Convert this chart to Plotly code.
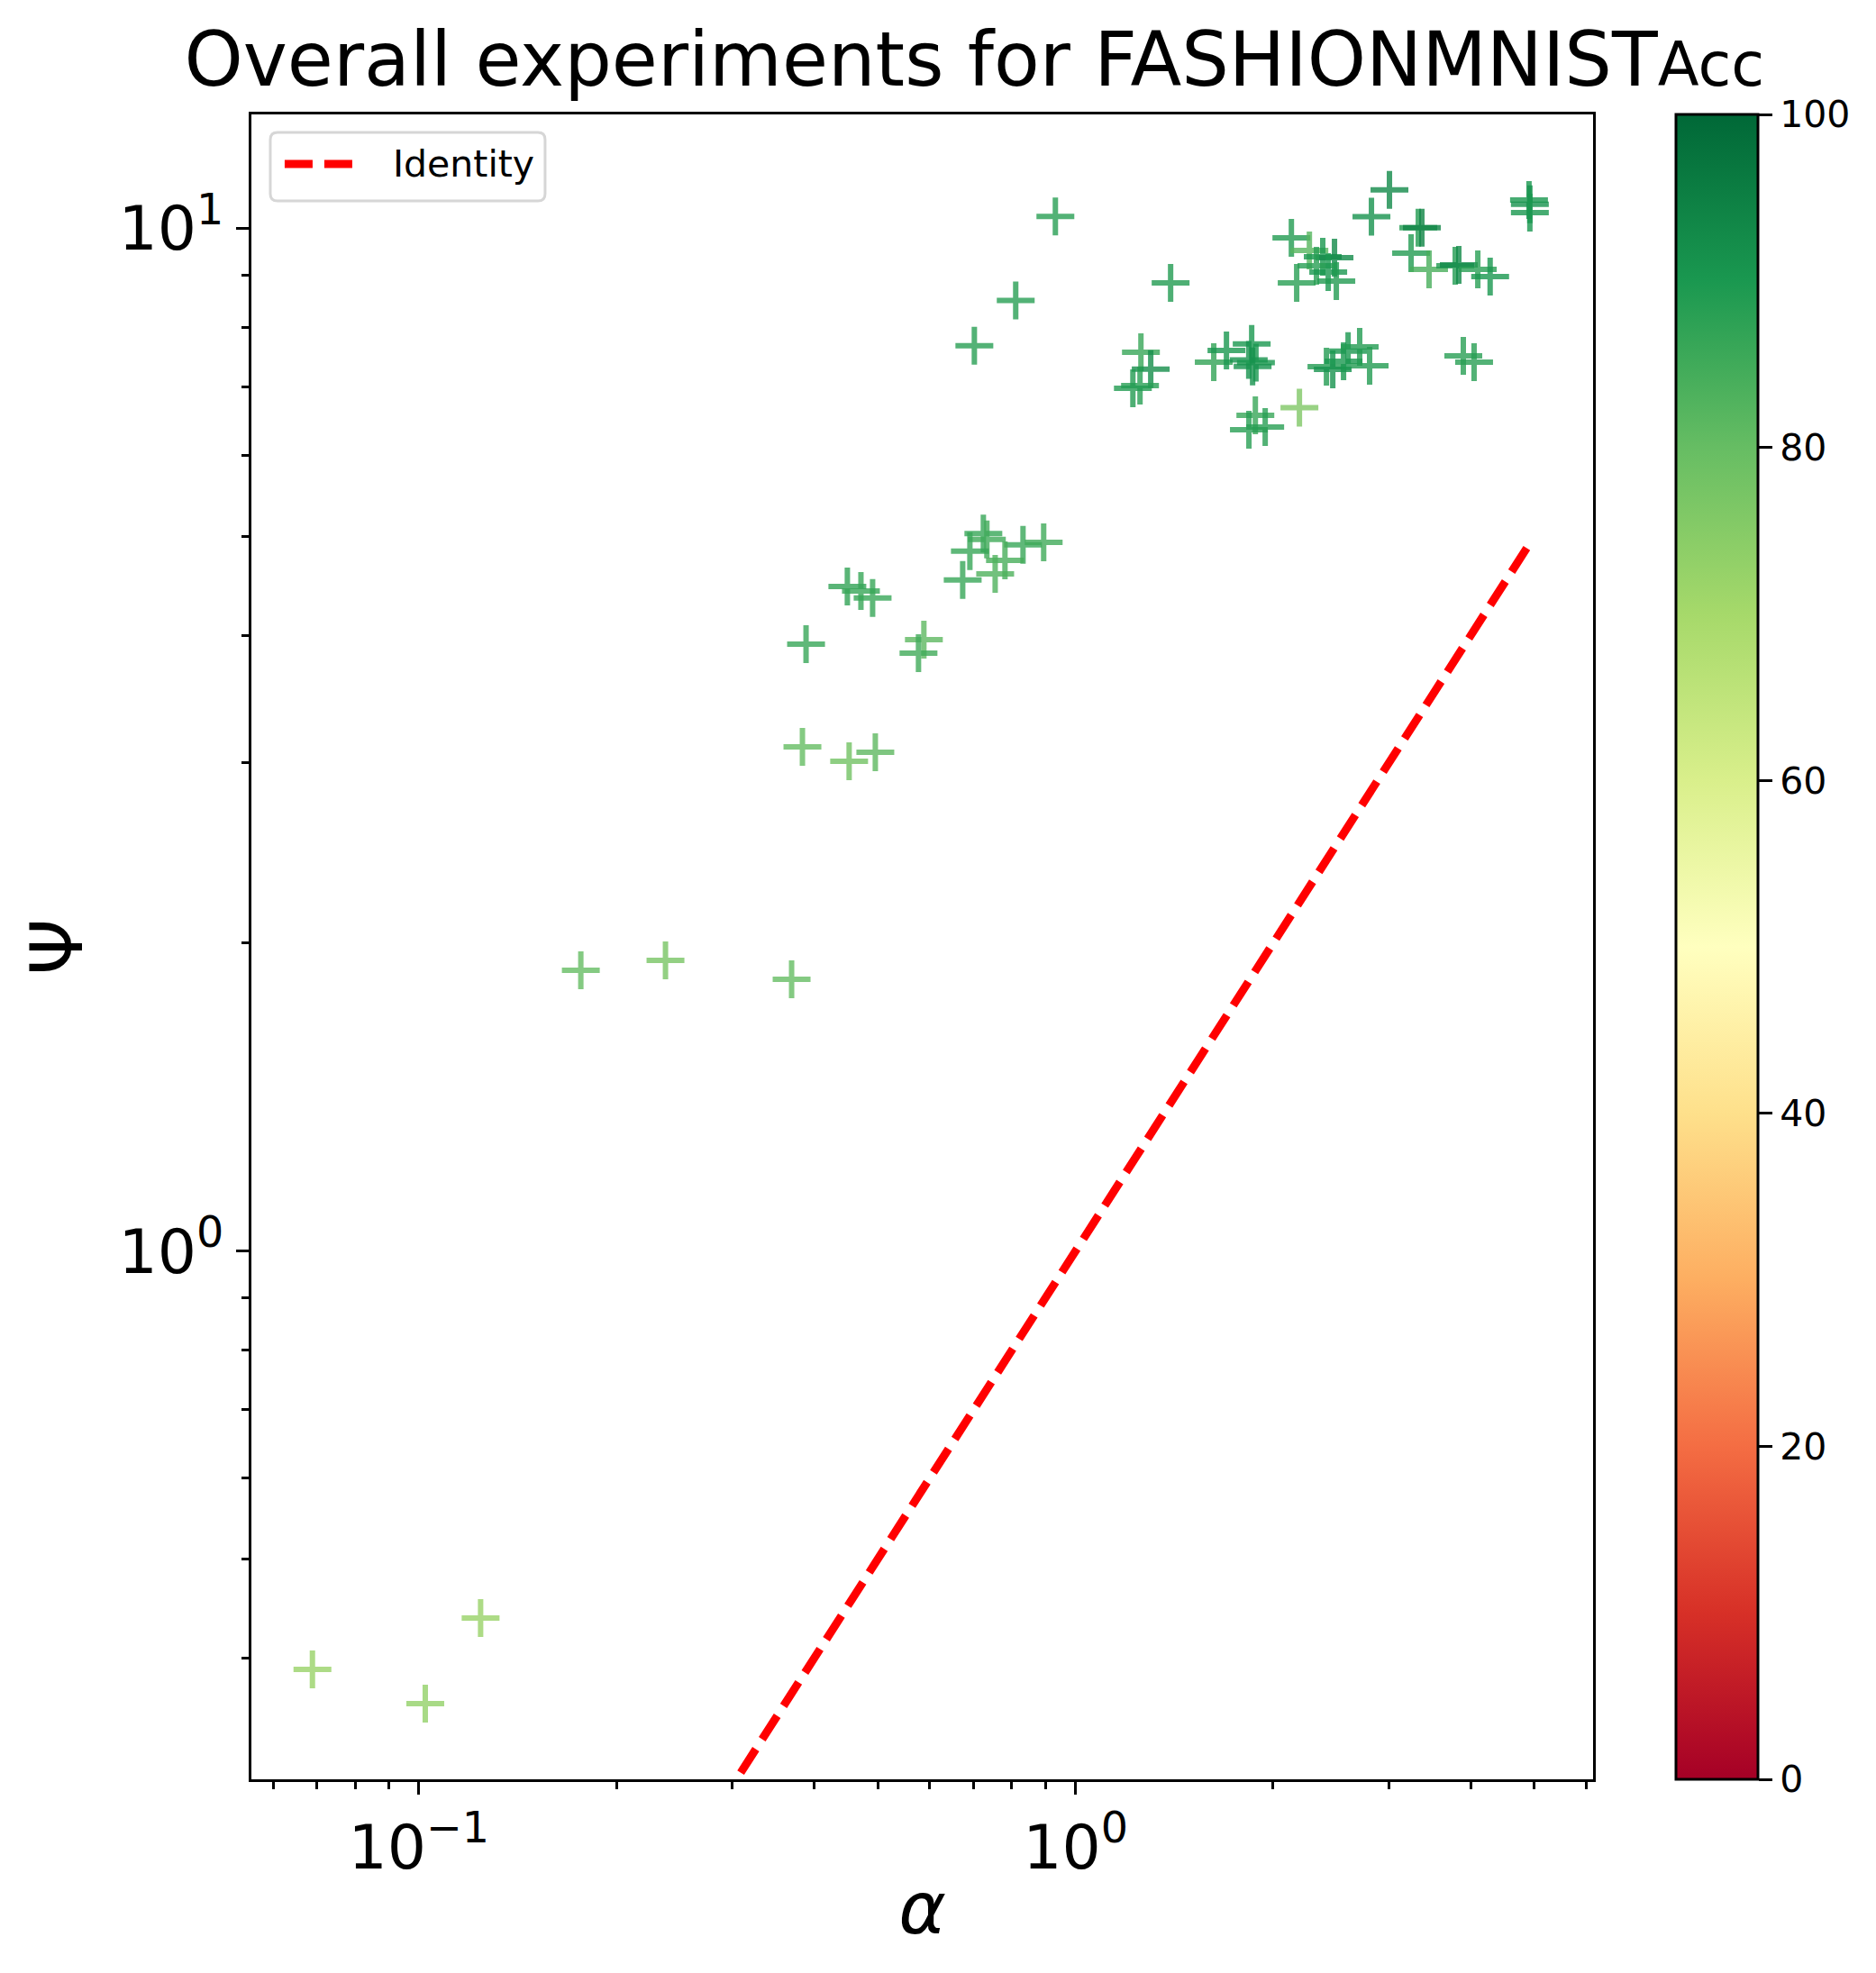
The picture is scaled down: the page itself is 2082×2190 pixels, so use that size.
import plotly.graph_objects as go

alpha = [0.932, 0.811, 0.7015, 1.396, 1.258, 1.302, 1.254, 1.223, 1.624, 1.698,
         1.855, 1.836, 1.883, 1.861, 1.879, 1.837, 1.945, 3.007, 2.823, 2.132,
         2.271, 2.380, 2.480, 2.328, 2.426, 2.496, 2.172, 3.327, 3.369, 3.244,
         3.455, 3.787, 3.835, 4.099, 4.280, 4.905, 4.920, 4.920, 2.411, 2.465,
         2.560, 2.601, 2.709, 2.805, 3.896, 4.046, 2.193, 0.724, 0.733, 0.6906,
         0.832, 0.8945, 0.781, 0.7546, 0.6734, 0.4494, 0.4713, 0.491, 0.3888, 0.5877,
         0.5767, 0.3839, 0.4522, 0.4957, 0.1765, 0.2375, 0.3696, 0.06887, 0.1023, 0.1242]

psi = [10.27, 8.50, 7.676, 8.84, 7.563, 7.282, 7.017, 6.975, 7.397, 7.594,
       7.707, 7.432, 7.387, 7.327, 6.563, 6.353, 6.392, 10.90, 10.26, 9.785,
       9.512, 9.378, 9.359, 9.189, 9.060, 8.877, 8.84, 10.01, 10.01, 9.454,
       9.115, 9.189, 9.208, 9.115, 8.968, 10.656, 10.55, 10.357, 7.322, 7.278,
       7.412, 7.584, 7.656, 7.337, 7.503, 7.397, 6.675, 5.030, 4.963, 4.834,
       4.903, 4.930, 4.734, 4.593, 4.529, 4.465, 4.420, 4.349, 3.921, 3.961,
       3.842, 3.111, 3.012, 3.074, 1.882, 1.924, 1.844, 0.390, 0.3612, 0.4378]

acc = [88, 88, 88, 89, 86, 92, 88, 89, 87, 90,
       90, 91, 90, 91, 86, 88, 88, 93, 91, 89,
       82, 90, 93, 88, 90, 89, 88, 89, 94, 89,
       84, 89, 93, 88, 90, 90, 91, 90, 89, 91,
       90, 90, 89, 89, 88, 88, 76, 86, 85, 86,
       86, 85, 84, 83, 86, 87, 86, 86, 86, 81,
       85, 80, 78, 81, 80, 77, 80, 72, 73, 72]

x_major = [0.1, 1]
x_major_text = ["10<sup>\u22121</sup>", "10<sup>0</sup>"]
x_minor = [0.06, 0.07, 0.08, 0.09, 0.2, 0.3, 0.4, 0.5, 0.6, 0.7, 0.8, 0.9,
           2, 3, 4, 5, 6]
y_major = [1, 10]
y_major_text = ["10<sup>0</sup>", "10<sup>1</sup>"]
y_minor = [0.4, 0.5, 0.6, 0.7, 0.8, 0.9, 2, 3, 4, 5, 6, 7, 8, 9]

cbar_ticks = [0, 20, 40, 60, 80, 100]

font = "DejaVu Sans"
red_dash = dict(color="red", width=9, dash="31px,13px")

fig = go.Figure()

# identity line across the alpha span
line_x = [min(alpha), max(alpha)]
fig.add_trace(go.Scatter(
    x=line_x, y=line_x, mode="lines", name="Identity",
    line=red_dash, showlegend=False,
))

fig.add_trace(go.Scatter(
    x=alpha, y=psi, mode="markers", showlegend=False,
    marker=dict(
        symbol="cross-thin", size=30, opacity=0.8,
        color=acc, cmin=0, cmax=100, colorscale="RdYlGn",
        line=dict(width=6, color=acc, cmin=0, cmax=100, colorscale="RdYlGn"),
        colorbar=dict(
            x=1.0617, xanchor="left", xpad=0, ypad=0,
            y=0.5, yanchor="middle", len=1, lenmode="fraction",
            thickness=91, outlinecolor="black", outlinewidth=3,
            tickvals=cbar_ticks, ticks="outside", ticklen=15, tickwidth=2.5,
            tickcolor="black", tickfont=dict(family=font, size=41, color="black"),
        ),
    ),
))

axis_common = dict(
    type="log", showgrid=False, zeroline=False,
    showline=True, linecolor="black", linewidth=3, mirror=True,
    ticks="outside", ticklen=14, tickwidth=3, tickcolor="black",
    tickmode="array",
    tickfont=dict(family=font, size=68, color="black"),
)

fig.update_xaxes(
    **axis_common,
    range=[-1.2549, 0.7882],
    tickvals=x_major, ticktext=x_major_text,
    minor=dict(tickvals=x_minor, ticks="outside", ticklen=8, tickwidth=2.5, tickcolor="black"),
    title=dict(text="<i>\u03b1</i>", font=dict(family=font, size=80, color="black"), standoff=2),
)
fig.update_yaxes(
    **axis_common,
    range=[-0.5163, 1.1112],
    tickvals=y_major, ticktext=y_major_text,
    minor=dict(tickvals=y_minor, ticks="outside", ticklen=8, tickwidth=2.5, tickcolor="black"),
    title=dict(text="\u03a8", font=dict(family=font, size=80, color="black"), standoff=14),
)

# legend box drawn like matplotlib's (rounded frame, long dashed sample)
bx0, bx1, by0, by1 = 0.0141, 0.2189, 0.948, 0.9892
rx, ry = 0.0054, 0.0043
box_path = (
    f"M{bx0 + rx},{by0} L{bx1 - rx},{by0} Q{bx1},{by0} {bx1},{by0 + ry} "
    f"L{bx1},{by1 - ry} Q{bx1},{by1} {bx1 - rx},{by1} "
    f"L{bx0 + rx},{by1} Q{bx0},{by1} {bx0},{by1 - ry} "
    f"L{bx0},{by0 + ry} Q{bx0},{by0} {bx0 + rx},{by0} Z"
)
fig.add_shape(type="path", path=box_path, xref="paper", yref="paper",
              line=dict(color="#d6d6d6", width=3), fillcolor="rgba(255,255,255,0.8)")
fig.add_shape(type="line", xref="paper", yref="paper",
              x0=0.0248, x1=0.0752, y0=0.9702, y1=0.9702, line=red_dash)
fig.add_annotation(text="Identity", xref="paper", yref="paper", x=0.1040, y=0.9702,
                   xanchor="left", yanchor="middle", showarrow=False,
                   font=dict(family=font, size=41, color="black"))

fig.update_layout(
    width=2082, height=2190,
    margin=dict(l=271, r=322, t=119, b=223),
    paper_bgcolor="white", plot_bgcolor="white",
    showlegend=False,
    title=dict(
        text='Overall experiments for FASHIONMNIST<span style="font-size:67px">Acc</span>',
        font=dict(family=font, size=83, color="black"),
        x=0.5155, xanchor="center", xref="container",
        y=0.9735, yanchor="middle", yref="container",
    ),
)

fig.write_html("out.html")
